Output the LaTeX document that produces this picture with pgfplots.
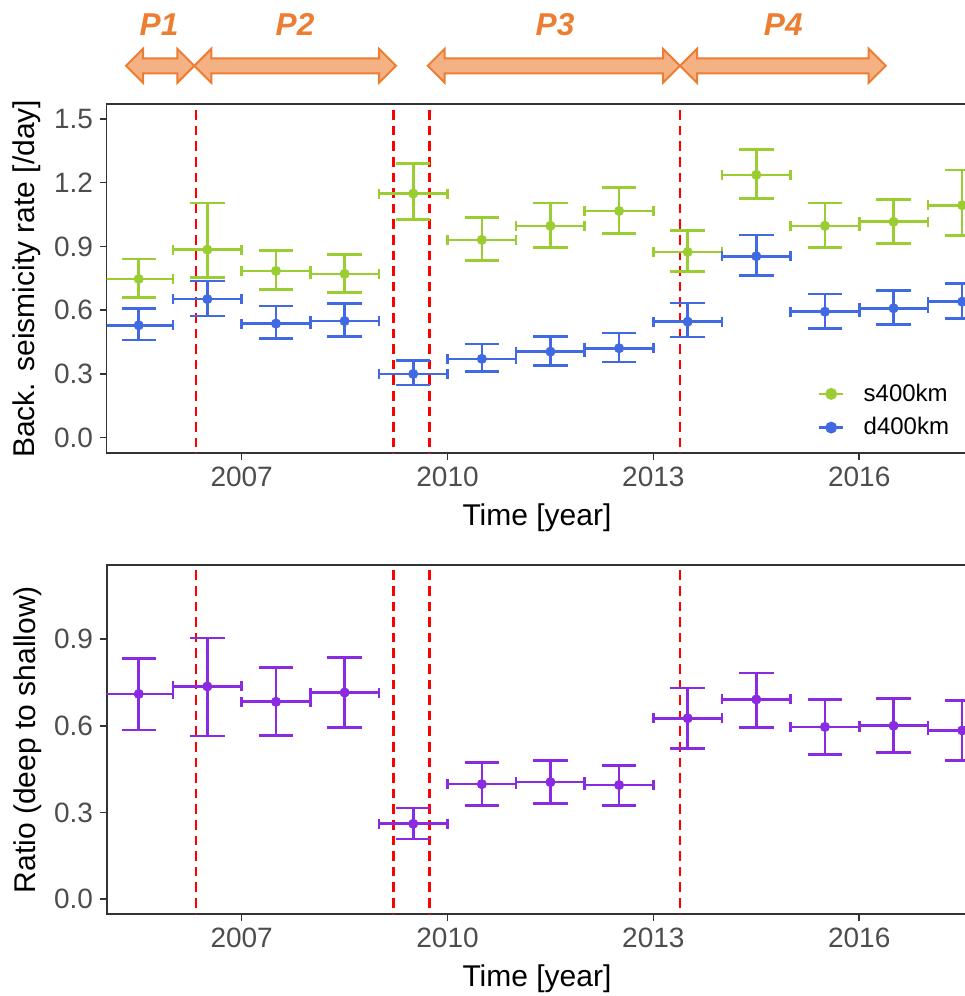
\documentclass[border=0pt]{standalone}
\usepackage{pgfplots}
\pgfplotsset{compat=1.18}
\usepackage{pgfplotstable}
\usepackage{fontspec}
\setmainfont{Liberation Sans}
\definecolor{sgreen}{HTML}{9ACD32}
\definecolor{dblue}{HTML}{4169E1}
\definecolor{rpurple}{HTML}{8A2BE2}
\definecolor{axisgray}{HTML}{333333}
\definecolor{ticktext}{HTML}{4D4D4D}
\definecolor{oline}{HTML}{ED7D31}
\definecolor{ofill}{HTML}{F4B183}

\pgfplotstableread{
x y lo hi
2005.5 0.747 0.661 0.840
2006.5 0.885 0.753 1.104
2007.5 0.785 0.697 0.880
2008.5 0.771 0.683 0.863
2009.5 1.149 1.026 1.289
2010.5 0.931 0.835 1.036
2011.5 0.997 0.896 1.104
2012.5 1.067 0.962 1.177
2013.5 0.874 0.782 0.976
2014.5 1.237 1.127 1.356
2015.5 0.997 0.896 1.104
2016.5 1.016 0.913 1.122
2017.5 1.094 0.951 1.259
}\sdata

\pgfplotstableread{
x y lo hi
2005.5 0.529 0.460 0.609
2006.5 0.652 0.573 0.738
2007.5 0.537 0.466 0.619
2008.5 0.549 0.476 0.631
2009.5 0.300 0.248 0.364
2010.5 0.371 0.311 0.440
2011.5 0.405 0.339 0.477
2012.5 0.421 0.356 0.493
2013.5 0.546 0.473 0.633
2014.5 0.854 0.763 0.953
2015.5 0.593 0.515 0.677
2016.5 0.609 0.532 0.694
2017.5 0.640 0.560 0.727
}\ddata

\pgfplotstableread{
x y lo hi
2005.5 0.710 0.585 0.833
2006.5 0.736 0.564 0.904
2007.5 0.683 0.567 0.801
2008.5 0.715 0.593 0.836
2009.5 0.261 0.208 0.315
2010.5 0.398 0.325 0.472
2011.5 0.405 0.332 0.479
2012.5 0.395 0.325 0.463
2013.5 0.626 0.522 0.731
2014.5 0.691 0.594 0.783
2015.5 0.596 0.501 0.690
2016.5 0.600 0.507 0.695
2017.5 0.584 0.479 0.687
}\rdata

\pgfplotsset{
  myaxis/.style={
    scale only axis,
    width=436.65pt,
    xmin=2005.033, xmax=2017.760,
    xtick={2007,2010,2013,2016},
    xticklabels={2007,2010,2013,2016},
    /pgf/number format/assume math mode=true,
    yticklabel style={/pgf/number format/.cd, fixed, fixed zerofill, precision=1},
    axis line style={color=axisgray, line width=0.8pt},
    tick style={color=axisgray, line width=0.8pt},
    tick align=outside,
    major tick length=3.35pt,
    tick pos=left,
    ticklabel style={font=\fontsize{14}{16}\selectfont, color=ticktext},
    label style={font=\fontsize{15}{18}\selectfont, color=black},
    clip=true,
  },
  vline/.style={red, line width=1.2pt, dash pattern=on 4.8pt off 3pt, forget plot},
  xbars/.style={draw=none, mark=none, forget plot,
    error bars/.cd, x dir=both, x fixed=0.5,
    error bar style={draw=#1, solid, line width=1.3pt},
    error mark options={rotate=90, draw=#1, solid, mark size=2.5pt, line width=1.3pt}},
  ybars/.style={forget plot, color=#1, only marks, mark=*, mark size=2.3pt, mark options={solid, fill=#1, draw=#1},
    error bars/.cd, y dir=both, y explicit,
    error bar style={draw=#1, solid, line width=1.3pt},
    error mark options={rotate=90, draw=#1, solid, mark size=8.6pt, line width=1.3pt}},
}

\newcommand{\dblarrow}[2]{%
  \filldraw[fill=ofill, draw=oline, line width=1pt, line join=miter]
    (#1,465.1) -- ({#1+8.5},473.6) -- ({#1+8.5},468.85) -- ({#2-8.5},468.85)
    -- ({#2-8.5},473.6) -- (#2,465.1) -- ({#2-8.5},456.6) -- ({#2-8.5},461.35)
    -- ({#1+8.5},461.35) -- ({#1+8.5},456.6) -- cycle;}

\begin{document}
\begin{tikzpicture}
\path[use as bounding box] (0pt,0pt) rectangle (482pt,498pt);

\begin{scope}[x=1pt,y=1pt]
\dblarrow{63}{97.15}
\dblarrow{97.15}{198}
\dblarrow{213.85}{340}
\dblarrow{340}{442.85}
\begin{scope}[every node/.style={inner sep=0pt, text=oline, font=\fontsize{15.8}{18}\selectfont\bfseries\itshape}]
\node at (79.5,485.65) {P1};
\node at (147.5,485.65) {P2};
\node at (277.5,485.65) {P3};
\node at (391.65,485.65) {P4};
\end{scope}
\end{scope}

% top panel
\begin{axis}[myaxis,
  at={(53.35pt,271.35pt)}, anchor=south west,
  height=174.5pt,
  ymin=-0.0735, ymax=1.569,
  ytick={0,0.3,0.6,0.9,1.2,1.5},
  xlabel={Time [year]},
  ylabel={Back. seismicity rate [/day]},
  xlabel style={at={(rel axis cs:0.4927,-0.1854)}, anchor=center},
  ylabel style={at={(rel axis cs:-0.0916,0.5)}, anchor=center},
  legend style={at={(rel axis cs:0.8145,0.1994)}, anchor=north west, draw=none, fill=none,
    inner sep=0pt, outer sep=0pt, font=\fontsize{12}{14}\selectfont,
    row sep=6.65pt, nodes={inner sep=0pt},
    /tikz/every odd column/.append style={column sep=9.65pt}},
  legend cell align=left,
  legend image code/.code={\draw[mark repeat=2,mark phase=2,#1] plot coordinates {(0pt,0pt) (5.95pt,0pt) (11.9pt,0pt)};},
]
\addplot[vline] coordinates {(2006.334,-1) (2006.334,3)};
\addplot[vline] coordinates {(2009.215,-1) (2009.215,3)};
\addplot[vline] coordinates {(2009.740,-1) (2009.740,3)};
\addplot[vline] coordinates {(2013.390,-1) (2013.390,3)};

\addplot[xbars=sgreen] table[x=x, y=y] {\sdata};
\addplot[ybars=sgreen] table[x=x, y=y, y error plus expr=\thisrow{hi}-\thisrow{y}, y error minus expr=\thisrow{y}-\thisrow{lo}] {\sdata};
\addplot[xbars=dblue] table[x=x, y=y] {\ddata};
\addplot[ybars=dblue] table[x=x, y=y, y error plus expr=\thisrow{hi}-\thisrow{y}, y error minus expr=\thisrow{y}-\thisrow{lo}] {\ddata};

\addlegendimage{sgreen, line width=1.3pt, mark=*, mark size=2.3pt, mark options={solid}}
\addlegendentry{s400km}
\addlegendimage{dblue, line width=1.3pt, mark=*, mark size=2.3pt, mark options={solid}}
\addlegendentry{d400km}
\end{axis}

% bottom panel
\begin{axis}[myaxis,
  at={(53.35pt,40.85pt)}, anchor=south west,
  height=174.65pt,
  ymin=-0.052, ymax=1.156,
  ytick={0,0.3,0.6,0.9},
  xlabel={Time [year]},
  ylabel={Ratio (deep to shallow)},
  xlabel style={at={(rel axis cs:0.4927,-0.1852)}, anchor=center},
  ylabel style={at={(rel axis cs:-0.0901,0.5)}, anchor=center},
]
\addplot[vline] coordinates {(2006.334,-1) (2006.334,3)};
\addplot[vline] coordinates {(2009.215,-1) (2009.215,3)};
\addplot[vline] coordinates {(2009.740,-1) (2009.740,3)};
\addplot[vline] coordinates {(2013.390,-1) (2013.390,3)};

\addplot[xbars=rpurple] table[x=x, y=y] {\rdata};
\addplot[ybars=rpurple] table[x=x, y=y, y error plus expr=\thisrow{hi}-\thisrow{y}, y error minus expr=\thisrow{y}-\thisrow{lo}] {\rdata};
\end{axis}
\end{tikzpicture}
\end{document}
